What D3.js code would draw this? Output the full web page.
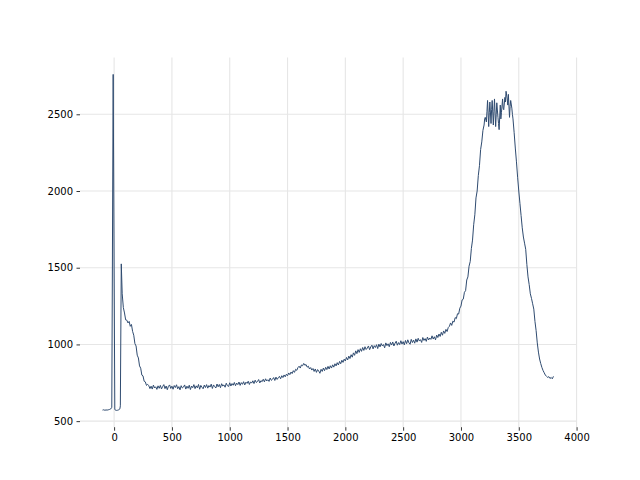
<!DOCTYPE html>
<html>
<head>
<meta charset="utf-8">
<script src="https://cdn.jsdelivr.net/npm/d3@7"></script>
<style>
  html, body { margin: 0; padding: 0; background: #ffffff; }
  svg { display: block; }
</style>
</head>
<body>
<svg id="chart" width="640" height="480"></svg>
<script>
// ---- data ----
const xValues = [
  -100, -90, -80, -70, -60, -50, -40, -30, -20, -8, 6, 10, 20, 30, 40, 50, 54, 62,
  70, 80, 90, 100, 110, 120, 130, 140, 150, 160, 170, 180, 190, 200, 210, 220, 230, 240, 250, 260, 270, 280, 290,
  300, 310, 320, 330, 340, 350, 360, 370, 380, 390,
  400, 410, 420, 430, 440, 450, 460, 470, 480, 490,
  500, 510, 520, 530, 540, 550, 560, 570, 580, 590,
  600, 610, 620, 630, 640, 650, 660, 670, 680, 690,
  700, 710, 720, 730, 740, 750, 760, 770, 780, 790,
  800, 810, 820, 830, 840, 850, 860, 870, 880, 890,
  900, 910, 920, 930, 940, 950, 960, 970, 980, 990,
  1000, 1010, 1020, 1030, 1040, 1050, 1060, 1070, 1080, 1090,
  1100, 1110, 1120, 1130, 1140, 1150, 1160, 1170, 1180, 1190,
  1200, 1210, 1220, 1230, 1240, 1250, 1260, 1270, 1280, 1290,
  1300, 1310, 1320, 1330, 1340, 1350, 1360, 1370, 1380, 1390,
  1400, 1410, 1420, 1430, 1440, 1450, 1460, 1470, 1480, 1490,
  1500, 1510, 1520, 1530, 1540, 1550, 1560, 1570, 1580, 1590,
  1600, 1610, 1620, 1630, 1640, 1650, 1660, 1670, 1680, 1690,
  1700, 1710, 1720, 1730, 1740, 1750, 1760, 1770, 1780, 1790,
  1800, 1810, 1820, 1830, 1840, 1850, 1860, 1870, 1880, 1890,
  1900, 1910, 1920, 1930, 1940, 1950, 1960, 1970, 1980, 1990,
  2000, 2010, 2020, 2030, 2040, 2050, 2060, 2070, 2080, 2090,
  2100, 2110, 2120, 2130, 2140, 2150, 2160, 2170, 2180, 2190,
  2200, 2210, 2220, 2230, 2240, 2250, 2260, 2270, 2280, 2290,
  2300, 2310, 2320, 2330, 2340, 2350, 2360, 2370, 2380, 2390,
  2400, 2410, 2420, 2430, 2440, 2450, 2460, 2470, 2480, 2490,
  2500, 2510, 2520, 2530, 2540, 2550, 2560, 2570, 2580, 2590,
  2600, 2610, 2620, 2630, 2640, 2650, 2660, 2670, 2680, 2690,
  2700, 2710, 2720, 2730, 2740, 2750, 2760, 2770, 2780, 2790,
  2800, 2810, 2820, 2830, 2840, 2850, 2860, 2870, 2880, 2890,
  2900, 2910, 2920, 2930, 2940, 2950, 2960, 2970, 2980, 2990,
  3000, 3010, 3020, 3030, 3040, 3050, 3060, 3070, 3080, 3090,
  3100, 3110, 3120, 3130, 3140, 3150, 3160, 3170, 3180, 3190,
  3200, 3205, 3210, 3220, 3225, 3230, 3240, 3245, 3250, 3260, 3265, 3270, 3280, 3285, 3290,
  3300, 3305, 3310, 3320, 3325, 3330, 3340, 3345, 3350, 3360, 3365, 3370, 3380, 3385, 3390,
  3400, 3405, 3410, 3420, 3425, 3430, 3440, 3445,
  3450, 3460, 3470, 3480, 3490,
  3500, 3510, 3520, 3530, 3540, 3550, 3560, 3570, 3580, 3590,
  3600, 3610, 3620, 3630, 3640, 3650, 3660, 3670, 3680, 3690,
  3700, 3710, 3720, 3730, 3740, 3750, 3760, 3770, 3780, 3790,
  3800
];
const yValues = [
  572, 574, 571, 573, 572, 574, 576, 579, 590, 2760, 578, 572, 570, 571, 574, 580, 600, 1525,
  1330, 1240, 1205, 1160, 1158, 1140, 1150, 1118, 1130, 1085, 1060, 1005, 990, 930, 912, 860, 845, 800, 795, 760, 756, 733, 740,
  731, 712, 728, 709, 735, 716, 724, 707, 730, 714,
  733, 710, 726, 738, 712, 729, 705, 727, 736, 713,
  728, 708, 732, 719, 737, 711, 725, 704, 731, 716,
  722, 736, 709, 728, 714, 734, 706, 729, 718, 738,
  712, 730, 717, 739, 708, 733, 721, 711, 735, 719,
  738, 715, 732, 722, 741, 713, 736, 725, 716, 742,
  724, 739, 718, 744, 729, 736, 721, 747, 731, 726,
  750, 729, 745, 734, 752, 731, 748, 738, 755, 733,
  751, 740, 757, 736, 754, 746, 760, 739, 756, 748,
  763, 745, 767, 752, 758, 771, 749, 764, 757, 773,
  756, 776, 762, 770, 759, 781, 766, 773, 784, 765,
  787, 772, 783, 792, 776, 796, 784, 801, 789, 806,
  796, 814, 803, 820, 810, 829, 818, 838, 831, 849,
  858, 846, 866, 861, 876, 864, 869, 852, 858, 840,
  849, 833, 843, 824, 840, 818, 836, 826, 812, 838,
  824, 846, 829, 851, 836, 857, 840, 861, 846, 867,
  852, 874, 860, 881, 866, 889, 874, 897, 883, 904,
  892, 915, 899, 924, 908, 933, 917, 945, 929, 958,
  940, 966, 948, 972, 955, 980, 961, 985, 967, 976,
  990, 966, 984, 995, 971, 992, 980, 998, 973, 1002,
  984, 1006, 990, 999, 978, 1010, 992, 1004, 985, 1013,
  996, 1016, 990, 1008, 1021, 995, 1012, 999, 1024, 1002,
  1018, 997, 1026, 1005, 1030, 1010, 1001, 1033, 1012, 1028,
  1008, 1036, 1015, 1040, 1022, 1031, 1013, 1045, 1026, 1038,
  1020, 1048, 1029, 1042, 1033, 1056, 1035, 1050, 1030, 1061,
  1045, 1068, 1052, 1079, 1060, 1088, 1072, 1098, 1084, 1110,
  1118, 1140, 1124, 1152, 1145, 1175, 1168, 1200, 1198, 1236,
  1250, 1290, 1295, 1340, 1350, 1420, 1440, 1510, 1540, 1625,
  1680, 1780, 1845, 1955, 2000, 2100, 2165, 2270, 2320, 2395,
  2430, 2470, 2480, 2450, 2520, 2590, 2420, 2510, 2580, 2440, 2530, 2590, 2430, 2520, 2600,
  2420, 2500, 2575, 2480, 2440, 2400, 2560, 2470, 2510, 2600, 2540, 2530, 2610, 2580, 2650,
  2600, 2560, 2630, 2480, 2550, 2590, 2540, 2500,
  2470, 2380, 2280, 2190, 2090,
  2000, 1920, 1840, 1760, 1700, 1660, 1620, 1520, 1440, 1390,
  1330, 1300, 1265, 1230, 1150, 1090, 1010, 950, 905, 875,
  850, 830, 815, 800, 792, 785, 790, 778, 785, 776,
  792
];
const xTicks = [0, 500, 1000, 1500, 2000, 2500, 3000, 3500, 4000];
const yTicks = [500, 1000, 1500, 2000, 2500];

(function () {
  // ---- layout ----
  const mLeft = 80, mRight = 576, mTop = 57.6, mBottom = 427.2;

  const svg = d3.select("#chart");

  const xMin = d3.min(xValues), xMax = d3.max(xValues);
  const yMin = d3.min(yValues), yMax = d3.max(yValues);
  const xPad = (xMax - xMin) * 0.05, yPad = (yMax - yMin) * 0.05;

  const x = d3.scaleLinear().domain([xMin - xPad, xMax + xPad]).range([mLeft, mRight]);
  const y = d3.scaleLinear().domain([yMin - yPad, yMax + yPad]).range([mBottom, mTop]);

  // gridlines
  const grid = svg.append("g");
  grid.selectAll("line.vx").data(xTicks).join("line").attr("class", "vx")
    .attr("x1", d => x(d)).attr("x2", d => x(d))
    .attr("y1", mTop).attr("y2", mBottom)
    .attr("stroke", "#e6e6e6").attr("stroke-width", 1.1);
  grid.selectAll("line.hy").data(yTicks).join("line").attr("class", "hy")
    .attr("x1", mLeft).attr("x2", mRight)
    .attr("y1", d => y(d)).attr("y2", d => y(d))
    .attr("stroke", "#e6e6e6").attr("stroke-width", 1.1);

  // axes
  const fontFam = "'DejaVu Sans', sans-serif";
  const xAxis = svg.append("g").attr("transform", `translate(0,${mBottom})`)
    .call(d3.axisBottom(x).tickValues(xTicks).tickSize(3.5).tickPadding(3.5).tickFormat(d3.format("d")));
  const yAxis = svg.append("g").attr("transform", `translate(${mLeft},0)`)
    .call(d3.axisLeft(y).tickValues(yTicks).tickSize(3.5).tickPadding(3.5).tickFormat(d3.format("d")));
  [xAxis, yAxis].forEach(a => {
    a.select(".domain").remove();
    a.selectAll(".tick line").attr("stroke", "#000").attr("stroke-width", 0.8);
    a.selectAll(".tick text").attr("fill", "#000").style("font-family", fontFam).style("font-size", "10px");
  });

  // line
  const pts = xValues.map((v, i) => [v, yValues[i]]);
  svg.append("path")
    .datum(pts)
    .attr("fill", "none")
    .attr("stroke", "#2f4b70")
    .attr("stroke-width", 1)
    .attr("stroke-linejoin", "round")
    .attr("d", d3.line().x(d => x(d[0])).y(d => y(d[1])));
})();
</script>
</body>
</html>
